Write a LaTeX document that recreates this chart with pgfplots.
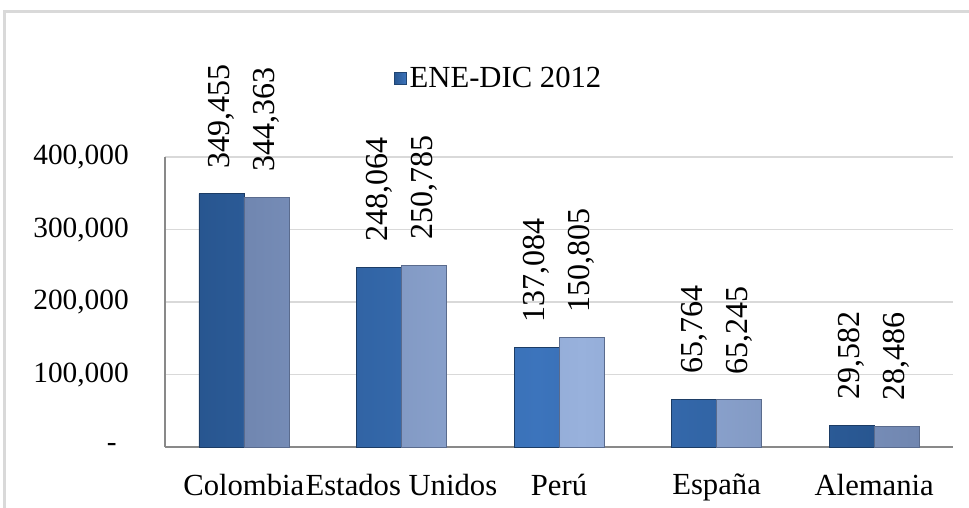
\documentclass[border=0pt]{standalone}
\usepackage{pgfplots}
\pgfplotsset{compat=1.18}
\usepackage{pgfplotstable}
\usepackage{fontspec}
\setmainfont{Liberation Serif}

\definecolor{darkA}{HTML}{285690}
\definecolor{darkB}{HTML}{3C74BC}
\definecolor{lightA}{HTML}{7086B0}
\definecolor{lightB}{HTML}{98B1DC}
\definecolor{gridc}{HTML}{D9D9D9}
\definecolor{axisc}{HTML}{898989}

\pgfplotstableread{
x y lab
0 349455 349,455
1 248064 248,064
2 137084 137,084
3 65764 65,764
4 29582 29,582
}\serA
\pgfplotstableread{
x y lab
0 344363 344,363
1 250785 250,785
2 150805 150,805
3 65245 65,245
4 28486 28,486
}\serB

\begin{document}
\begin{tikzpicture}
\begin{axis}[
  scale only axis,
  width=591pt, height=217.5pt,
  at={(0,0)}, anchor=south west,
  ybar=0pt, bar width=33.75pt,
  xmin=-0.5, xmax=4.5,
  ymin=0, ymax=400000,
  axis lines*=left,
  axis line style={draw=axisc, line width=0.9pt, -},
  ymajorgrids, grid style={draw=gridc, line width=0.9pt},
  major tick length=0pt,
  scaled y ticks=false,
  xtick={0,1,2,3,4},
  xticklabels={Colombia,Estados Unidos,Perú,España,Alemania},
  ytick={0,100000,200000,300000,400000},
  yticklabels={{-\kern9pt\null},{100,000},{200,000},{300,000},{400,000}},
  xticklabel style={font=\fontsize{23}{26}\selectfont, inner sep=0pt, yshift=-20pt},
  yticklabel style={font=\fontsize{22}{25}\selectfont, inner sep=0pt, xshift=-27pt},
  clip=false,
  point meta=explicit symbolic,
  nodes near coords,
  nodes near coords style={rotate=90, anchor=west, inner xsep=19pt, inner ysep=0pt,
    font=\fontsize{24}{27}\selectfont, text=black},
  legend entries={ENE-DIC 2012},
  legend style={at={(rel axis cs:0.29,1.27)}, anchor=west, draw=none, fill=none,
    font=\fontsize{23}{26}\selectfont, inner sep=0pt},
  legend image code/.code={\shade[left color=darkA, right color=darkB, draw=darkA!80!black] (0pt,-4.5pt) rectangle (9.5pt,4.5pt);},
]
\addplot[left color=darkA, right color=darkA, middle color=darkB, draw=darkA!70!black]
  table[x=x, y=y, meta=lab] {\serA};
\addplot[left color=lightA, right color=lightA, middle color=lightB, draw=lightA!80!black]
  table[x=x, y=y, meta=lab] {\serB};
\end{axis}
\useasboundingbox (-123.75pt,-45pt) rectangle (603pt,335.25pt);
\draw[gridc, line width=2.25pt] (-120pt,-46pt) -- (-120pt,326.25pt) -- (604pt,326.25pt);
\end{tikzpicture}
\end{document}
